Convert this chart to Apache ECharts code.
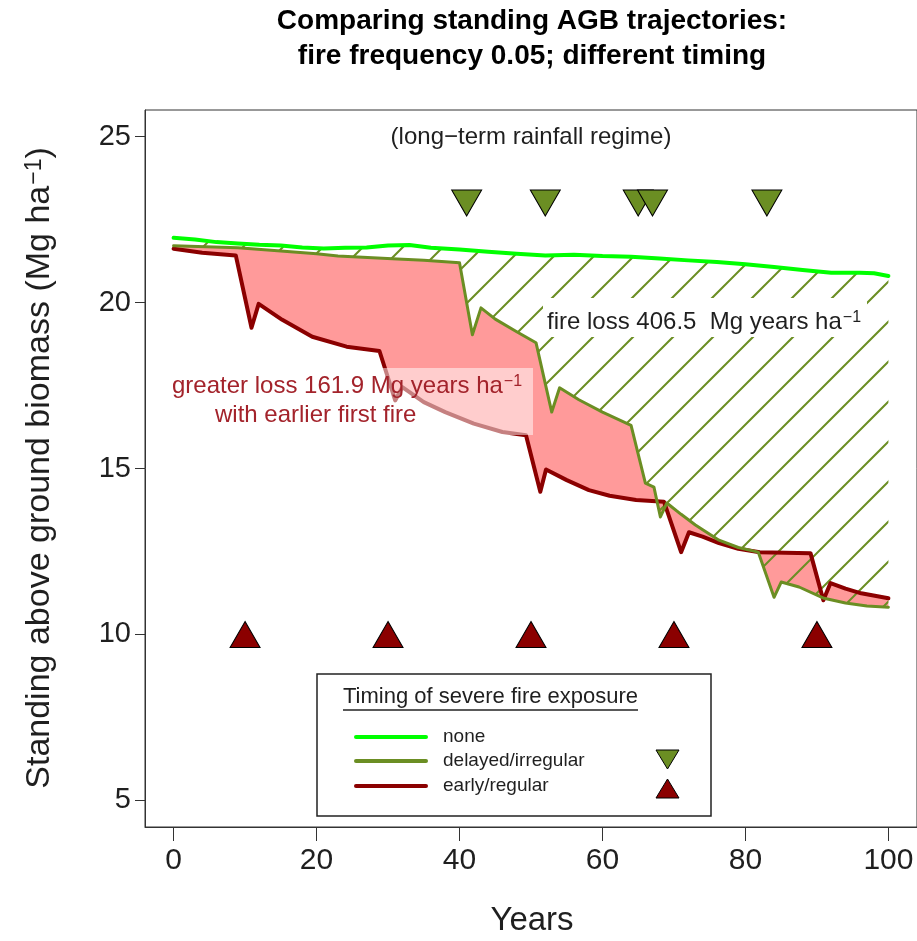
<!DOCTYPE html>
<html>
<head>
<meta charset="utf-8">
<script src="https://cdn.jsdelivr.net/npm/echarts@6/dist/echarts.min.js"></script>
<style>
html,body{margin:0;padding:0;background:#fff;}
#chart{width:917px;height:941px;}
</style>
</head>
<body>
<div id="chart"></div>
<script>
// ---------------- data ----------------
const xTicks = [0, 20, 40, 60, 80, 100];
const yTicks = [5, 10, 15, 20, 25];

// "none" trajectory
const noneYears = [0, 3, 6, 9, 12, 15, 18, 21, 24, 27, 30, 33, 36, 40, 44, 48, 52, 56, 60, 64, 68, 72, 76, 80, 84, 88, 92, 96, 98, 100];
const noneVals  = [21.95, 21.9, 21.82, 21.78, 21.74, 21.72, 21.66, 21.63, 21.65, 21.66, 21.72, 21.73, 21.65, 21.6, 21.53, 21.47, 21.42, 21.44, 21.4, 21.38, 21.33, 21.27, 21.22, 21.15, 21.07, 20.98, 20.9, 20.9, 20.88, 20.8];

// "delayed/irregular" trajectory
const delayedYears = [0, 9, 15, 20, 23, 30.6, 35, 40, 41.8, 43, 45, 48, 50.7, 52.9, 54, 56.7, 60, 64, 66, 67.2, 68.1, 69, 71, 73, 76.3, 79, 81.8, 84, 85, 87.5, 91, 94, 97, 100];
const delayedVals  = [21.71, 21.65, 21.55, 21.47, 21.4, 21.32, 21.27, 21.2, 19.03, 19.84, 19.5, 19.12, 18.79, 16.7, 17.43, 17.07, 16.7, 16.3, 14.56, 14.44, 13.54, 13.96, 13.62, 13.3, 12.84, 12.62, 12.48, 11.12, 11.58, 11.43, 11.09, 10.95, 10.86, 10.82];

// "early/regular" trajectory
const earlyYears = [0, 4, 8.7, 10.9, 11.9, 15.2, 19.4, 24.2, 28.8, 31, 32, 35, 38, 42, 46, 49.3, 51.3, 52.1, 55, 58.1, 61, 64.7, 68.6, 71, 72.1, 74, 76.3, 79, 82, 89.1, 90.9, 91.9, 94, 96.2, 100];
const earlyVals  = [21.62, 21.5, 21.42, 19.24, 19.96, 19.48, 18.97, 18.67, 18.54, 17.05, 17.45, 17.0, 16.7, 16.35, 16.1, 16.0, 14.3, 14.97, 14.65, 14.35, 14.18, 14.05, 14.0, 12.48, 13.08, 12.95, 12.75, 12.58, 12.48, 12.45, 11.03, 11.55, 11.38, 11.24, 11.09];

// fire events
const fireDelayedYears = [41, 52, 65, 67, 83];
const fireDelayedLevel = [23, 23, 23, 23, 23];
const fireEarlyYears = [10, 30, 50, 70, 90];
const fireEarlyLevel = [10, 10, 10, 10, 10];

// ---------------- styling ----------------
const FONT = "'Liberation Sans', Arial, Helvetica, sans-serif";
const GREEN = '#00FF00', OLIVE = '#6B8E23', DRED = '#8B0000', PINK = '#FF9A9A';
const TXT = '#1f1f1f';
const RTXT = '#A3232B';

const zip = (xs, ys) => xs.map((x, i) => [x, ys[i]]);

// hatch pattern
const pat = document.createElement('canvas');
pat.width = 40; pat.height = 40;
(function () {
  const c = pat.getContext('2d');
  c.strokeStyle = OLIVE; c.lineWidth = 2;
  c.beginPath();
  c.moveTo(-6, 16); c.lineTo(16, -6);
  c.moveTo(4, 46); c.lineTo(46, 4);
  c.stroke();
})();

function bandItem(topX, topY, botX, botY, fill) {
  return function (params, api) {
    const pts = [];
    for (let i = 0; i < topX.length; i++) pts.push(api.coord([topX[i], topY[i]]));
    for (let i = botX.length - 1; i >= 0; i--) pts.push(api.coord([botX[i], botY[i]]));
    return { type: 'polygon', shape: { points: pts }, style: { fill: fill, stroke: null } };
  };
}

const chart = echarts.init(document.getElementById('chart'), null, { renderer: 'canvas' });

const supRich = (size, color) => ({
  n: { fontSize: size, fontFamily: FONT, fill: color },
  s: { fontSize: Math.round(size * 0.68), fontFamily: FONT, fill: color, verticalAlign: 'top', padding: [0, 0, 0, 1] }
});

const option = {
  animation: false,
  backgroundColor: '#fff',
  grid: { left: 145, top: 110, width: 774, height: 717, show: true, borderColor: '#333', borderWidth: 1, backgroundColor: 'transparent' },
  xAxis: {
    type: 'value', min: -4, max: 104,
    splitLine: { show: false },
    axisLine: { show: true, onZero: false, lineStyle: { color: '#333', width: 1 } },
    axisTick: { show: true, length: 14, customValues: xTicks, lineStyle: { color: '#333', width: 1 } },
    axisLabel: { customValues: xTicks, fontSize: 30, fontFamily: FONT, color: TXT, margin: 19 }
  },
  yAxis: {
    type: 'value', min: 4.2, max: 25.8,
    splitLine: { show: false },
    axisLine: { show: true, onZero: false, lineStyle: { color: '#333', width: 1 } },
    axisTick: { show: true, length: 10, customValues: yTicks, lineStyle: { color: '#333', width: 1 } },
    axisLabel: { customValues: yTicks, fontSize: 29, fontFamily: FONT, color: TXT, margin: 14 }
  },
  series: [
    { type: 'custom', silent: true, renderItem: bandItem(delayedYears, delayedVals, earlyYears, earlyVals, PINK), data: [[0, 0]], z: 1 },
    { type: 'custom', silent: true, renderItem: bandItem(noneYears, noneVals, delayedYears, delayedVals, { type: 'pattern', image: pat, repeat: 'repeat' }), data: [[0, 0]], z: 2 },
    { type: 'line', name: 'early/regular', data: zip(earlyYears, earlyVals), showSymbol: false, lineStyle: { color: DRED, width: 4, cap: 'round', join: 'round' }, z: 3 },
    { type: 'line', name: 'delayed/irregular', data: zip(delayedYears, delayedVals), showSymbol: false, lineStyle: { color: OLIVE, width: 3, cap: 'round', join: 'round' }, z: 4 },
    { type: 'line', name: 'none', data: zip(noneYears, noneVals), showSymbol: false, lineStyle: { color: GREEN, width: 4, cap: 'round', join: 'round' }, z: 5 },
    { type: 'scatter', data: zip(fireDelayedYears, fireDelayedLevel), symbol: 'triangle', symbolRotate: 180, symbolSize: [30, 26], itemStyle: { color: OLIVE, borderColor: '#000', borderWidth: 1, opacity: 1 }, z: 6 },
    { type: 'scatter', data: zip(fireEarlyYears, fireEarlyLevel), symbol: 'triangle', symbolSize: [30, 26], itemStyle: { color: DRED, borderColor: '#000', borderWidth: 1, opacity: 1 }, z: 6 }
  ],
  graphic: [
    // titles
    { type: 'text', z: 100, x: 532, y: 21, style: { text: 'Comparing standing AGB trajectories:', font: 'bold 28px ' + FONT, fill: '#000', align: 'center', verticalAlign: 'middle' } },
    { type: 'text', z: 100, x: 532, y: 56, style: { text: 'fire frequency 0.05; different timing', font: 'bold 28px ' + FONT, fill: '#000', align: 'center', verticalAlign: 'middle' } },
    // axis titles
    { type: 'text', z: 100, x: 532, y: 921, style: { text: 'Years', font: '33px ' + FONT, fill: TXT, align: 'center', verticalAlign: 'middle' } },
    { type: 'text', z: 100, x: 40, y: 468, rotation: Math.PI / 2,
      style: { text: '{n|Standing above ground biomass (Mg ha}{s|−1}{n|)}', rich: supRich(34, TXT), align: 'center', verticalAlign: 'middle' } },
    // annotations
    { type: 'text', z: 100, x: 531, y: 137, style: { text: '(long−term rainfall regime)', font: '24px ' + FONT, fill: TXT, align: 'center', verticalAlign: 'middle' } },
    { type: 'rect', z: 99, shape: { x: 543, y: 298, width: 324, height: 39 }, style: { fill: '#fff' } },
    { type: 'text', z: 100, x: 547, y: 322, style: { text: '{n|fire loss 406.5  Mg years ha}{s|−1}', rich: supRich(24, TXT), align: 'left', verticalAlign: 'middle' } },
    { type: 'rect', z: 99, shape: { x: 165, y: 368, width: 368, height: 67 }, style: { fill: 'rgba(255,255,255,0.5)' } },
    { type: 'text', z: 100, x: 172, y: 386, style: { text: '{n|greater loss 161.9 Mg years ha}{s|−1}', rich: supRich(24, RTXT), align: 'left', verticalAlign: 'middle' } },
    { type: 'text', z: 100, x: 215, y: 415, style: { text: 'with earlier first fire', font: '24px ' + FONT, fill: RTXT, align: 'left', verticalAlign: 'middle' } },
    // legend
    { type: 'rect', z: 100, shape: { x: 317, y: 674, width: 394, height: 142 }, style: { fill: '#fff', stroke: '#222', lineWidth: 1.5 } },
    { type: 'text', z: 101, x: 343, y: 697, style: { text: 'Timing of severe fire exposure', font: '22px ' + FONT, fill: TXT, align: 'left', verticalAlign: 'middle' } },
    { type: 'line', z: 101, shape: { x1: 343, y1: 710, x2: 638, y2: 710 }, style: { stroke: '#222', lineWidth: 1.5 } },
    { type: 'line', z: 101, shape: { x1: 356, y1: 737, x2: 426, y2: 737 }, style: { stroke: GREEN, lineWidth: 4, lineCap: 'round' } },
    { type: 'line', z: 101, shape: { x1: 356, y1: 761, x2: 426, y2: 761 }, style: { stroke: OLIVE, lineWidth: 4, lineCap: 'round' } },
    { type: 'line', z: 101, shape: { x1: 356, y1: 786, x2: 426, y2: 786 }, style: { stroke: DRED, lineWidth: 4, lineCap: 'round' } },
    { type: 'text', z: 101, x: 443, y: 737, style: { text: 'none', font: '19px ' + FONT, fill: TXT, align: 'left', verticalAlign: 'middle' } },
    { type: 'text', z: 101, x: 443, y: 761, style: { text: 'delayed/irregular', font: '19px ' + FONT, fill: TXT, align: 'left', verticalAlign: 'middle' } },
    { type: 'text', z: 101, x: 443, y: 786, style: { text: 'early/regular', font: '19px ' + FONT, fill: TXT, align: 'left', verticalAlign: 'middle' } },
    { type: 'polygon', z: 101, shape: { points: [[656, 750], [679, 750], [667.5, 769]] }, style: { fill: OLIVE, stroke: '#000', lineWidth: 1 } },
    { type: 'polygon', z: 101, shape: { points: [[656, 798], [679, 798], [667.5, 779]] }, style: { fill: DRED, stroke: '#000', lineWidth: 1 } }
  ]
};
chart.setOption(option);
</script>
</body>
</html>
